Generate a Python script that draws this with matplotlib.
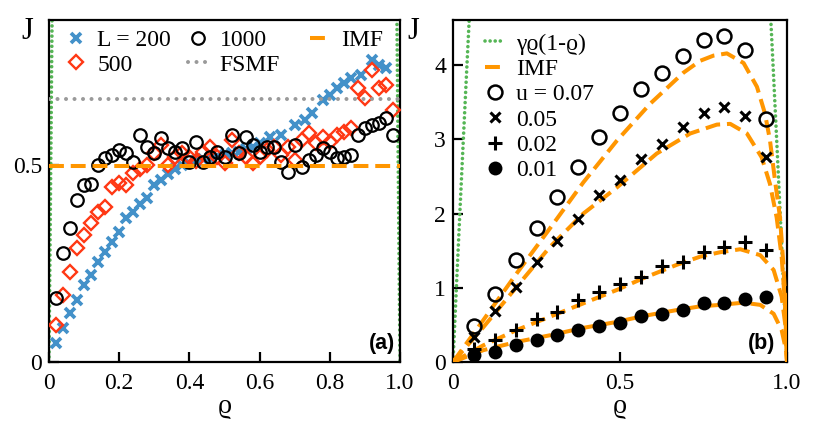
import matplotlib
matplotlib.use("Agg")
import matplotlib.pyplot as plt
from matplotlib.lines import Line2D

plt.rcParams['font.family'] = ['Liberation Serif', 'DejaVu Serif']
plt.rcParams['mathtext.fontset'] = 'stix'

# ---------------- data: panel (a) ----------------
rho_200 = [0.02, 0.04, 0.06, 0.08, 0.10, 0.12, 0.14, 0.16, 0.18, 0.20,
           0.22, 0.24, 0.26, 0.28, 0.30, 0.32, 0.34, 0.36, 0.38, 0.40,
           0.42, 0.44, 0.46, 0.48, 0.50, 0.52, 0.54, 0.56, 0.58, 0.60,
           0.63, 0.66, 0.70, 0.73, 0.75, 0.78, 0.80, 0.82, 0.84, 0.86,
           0.89, 0.92, 0.94, 0.96]
J_200 = [0.047, 0.086, 0.124, 0.157, 0.195, 0.220, 0.255, 0.280, 0.305, 0.330,
         0.365, 0.380, 0.400, 0.415, 0.449, 0.462, 0.478, 0.490, 0.500, 0.505,
         0.510, 0.515, 0.518, 0.522, 0.526, 0.530, 0.534, 0.540, 0.546, 0.555,
         0.572, 0.576, 0.601, 0.614, 0.631, 0.665, 0.678, 0.695, 0.707, 0.720,
         0.728, 0.766, 0.754, 0.747]

rho_500 = [0.02, 0.04, 0.06, 0.08, 0.10, 0.12, 0.14, 0.16, 0.18, 0.20,
           0.22, 0.24, 0.26, 0.28, 0.30, 0.32, 0.34, 0.36, 0.38, 0.40,
           0.42, 0.44, 0.46, 0.48, 0.50, 0.52, 0.54, 0.56, 0.58, 0.60,
           0.62, 0.64, 0.66, 0.68, 0.70, 0.72, 0.74, 0.76, 0.78, 0.80,
           0.82, 0.84, 0.86, 0.88, 0.90, 0.92, 0.94, 0.96, 0.98]
J_500 = [0.094, 0.170, 0.229, 0.289, 0.322, 0.352, 0.381, 0.394, 0.445, 0.455,
         0.449, 0.479, 0.491, 0.500, 0.530, 0.551, 0.500, 0.520, 0.530, 0.521,
         0.510, 0.534, 0.546, 0.520, 0.504, 0.563, 0.530, 0.520, 0.504, 0.520,
         0.538, 0.546, 0.525, 0.546, 0.513, 0.563, 0.580, 0.555, 0.572, 0.559,
         0.576, 0.584, 0.593, 0.695, 0.669, 0.741, 0.695, 0.703, 0.640]

rho_1000 = rho_500
J_1000 = [0.162, 0.276, 0.339, 0.411, 0.449, 0.453, 0.500, 0.517, 0.525, 0.538,
          0.530, 0.508, 0.576, 0.546, 0.530, 0.568, 0.542, 0.534, 0.542, 0.508,
          0.559, 0.508, 0.520, 0.534, 0.521, 0.576, 0.530, 0.572, 0.550, 0.534,
          0.546, 0.546, 0.508, 0.483, 0.550, 0.496, 0.513, 0.525, 0.542, 0.534,
          0.517, 0.520, 0.525, 0.576, 0.593, 0.601, 0.606, 0.619, 0.576]

rho_line_a = [0.0, 1.0]
J_fsmf = [0.667, 0.667]
J_imf_a = [0.497, 0.497]

# green curve  gamma*rho*(1-rho)
rho_green = [0.0, 0.01, 0.02, 0.03, 0.04, 0.05, 0.06, 0.94, 0.95, 0.96, 0.97, 0.98, 0.99, 1.0]
J_green = [0.0, 0.99, 1.96, 2.91, 3.84, 4.75, 5.64, 5.64, 4.75, 3.84, 2.91, 1.96, 0.99, 0.0]

# ---------------- data: panel (b) ----------------
rho_b = [0.0625, 0.125, 0.1875, 0.25, 0.3125, 0.375, 0.4375, 0.5,
         0.5625, 0.625, 0.6875, 0.75, 0.8125, 0.875, 0.9375]
J_u07 = [0.48, 0.92, 1.38, 1.81, 2.22, 2.63, 3.03, 3.35, 3.68, 3.89, 4.13, 4.34, 4.39, 4.20, 3.28]
J_u05 = [0.34, 0.69, 1.01, 1.35, 1.63, 1.93, 2.25, 2.45, 2.74, 2.94, 3.17, 3.35, 3.44, 3.31, 2.77]
J_u02 = [0.18, 0.29, 0.43, 0.58, 0.67, 0.84, 0.95, 1.05, 1.15, 1.29, 1.35, 1.48, 1.55, 1.62, 1.51]
J_u01 = [0.10, 0.14, 0.23, 0.30, 0.36, 0.43, 0.49, 0.53, 0.62, 0.65, 0.70, 0.79, 0.79, 0.85, 0.88]

imf07_rho = [0, 0.09, 0.19, 0.29, 0.39, 0.49, 0.59, 0.69, 0.74, 0.78, 0.82, 0.87, 0.91, 0.934, 0.949, 0.964, 0.979, 0.989, 0.997, 1.0]
imf07_J = [0, 0.56, 1.19, 1.80, 2.42, 2.98, 3.48, 3.90, 4.06, 4.13, 4.16, 4.03, 3.71, 3.35, 2.99, 2.45, 1.95, 1.33, 0.65, 0.0]
imf05_rho = [0, 0.091, 0.19, 0.29, 0.39, 0.49, 0.61, 0.71, 0.79, 0.83, 0.88, 0.924, 0.949, 0.969, 0.984, 0.994, 1.0]
imf05_J = [0, 0.47, 1.01, 1.55, 2.0, 2.35, 2.81, 3.08, 3.20, 3.21, 3.08, 2.76, 2.40, 1.95, 1.42, 0.79, 0]
imf02_rho = [0, 0.091, 0.19, 0.29, 0.39, 0.49, 0.57, 0.67, 0.74, 0.80, 0.86, 0.92, 0.96, 0.984, 0.997, 1.0]
imf02_J = [0, 0.225, 0.43, 0.61, 0.79, 0.97, 1.13, 1.31, 1.42, 1.48, 1.52, 1.44, 1.24, 0.88, 0.43, 0]
imf01_rho = [0, 0.091, 0.19, 0.29, 0.39, 0.49, 0.57, 0.67, 0.74, 0.80, 0.87, 0.92, 0.96, 0.984, 0.997, 1.0]
imf01_J = [0, 0.16, 0.27, 0.36, 0.46, 0.54, 0.62, 0.70, 0.75, 0.77, 0.80, 0.77, 0.65, 0.43, 0.16, 0]

# ---------------- styles ----------------
BLUE = '#4391c9'
RED = '#ff3814'
ORANGE = '#ff9600'
GREEN = '#55b555'
GREY = '#9a9a9a'
FS = 17

imf_style = dict(color=ORANGE, lw=2.9, linestyle=(0, (3.7, 1.7)))
green_style = dict(color=GREEN, lw=2.6, linestyle=(0, (0.01, 1.4)), dash_capstyle='round')
fsmf_style = dict(color=GREY, lw=2.9, linestyle=(0, (0.01, 2.1)), dash_capstyle='round')

m200 = dict(linestyle='none', marker='x', ms=7.5, mew=2.7, color=BLUE)
m500 = dict(linestyle='none', marker='D', ms=7.5, mew=1.7, mfc='none', mec=RED)
m1000 = dict(linestyle='none', marker='o', ms=9, mew=1.6, mfc='none', mec='black')
m07 = dict(linestyle='none', marker='o', ms=10, mew=1.8, mfc='none', mec='black')
m05 = dict(linestyle='none', marker='x', ms=7.5, mew=2.2, color='black')
m02 = dict(linestyle='none', marker='+', ms=10, mew=2.2, color='black')
m01 = dict(linestyle='none', marker='o', ms=10, mew=0, color='black')

fig = plt.figure(figsize=(8.3, 4.32), dpi=100)
axa = fig.add_axes([49/830, 70/432, 351/830, 342/432])
axb = fig.add_axes([453/830, 70/432, 334/830, 342/432])

for ax in (axa, axb):
    for s in ax.spines.values():
        s.set_linewidth(1.6)
    ax.tick_params(direction='in', length=7, width=1.6, labelsize=FS, pad=5,
                   top=False, right=False)
    ax.tick_params(axis='x', pad=8)

# ---- panel (a)
axa.plot(rho_green, J_green, **green_style, zorder=2)
axa.plot(rho_200, J_200, **m200, zorder=3)
axa.plot(rho_500, J_500, **m500, zorder=3)
axa.plot(rho_1000, J_1000, **m1000, zorder=3)
axa.plot(rho_line_a, J_fsmf, **fsmf_style, zorder=4)
axa.plot(rho_line_a, J_imf_a, **imf_style, zorder=4)
axa.set_xlim(0, 1)
axa.set_ylim(0, 0.868)
axa.set_xticks([0, 0.2, 0.4, 0.6, 0.8, 1.0])
axa.set_xticklabels(['0', '0.2', '0.4', '0.6', '0.8', '1.0'])
axa.set_yticks([0, 0.5])
axa.set_yticklabels(['0', '0.5'])
axa.set_xlabel('ϱ', fontsize=20, labelpad=0)
axa.text(-0.062, 0.965, 'J', transform=axa.transAxes, fontsize=22, ha='center', va='center')
axa.text(0.986, 0.022, '(a)', transform=axa.transAxes, fontsize=15.5, fontweight='bold',
         family='Liberation Sans', ha='right', va='bottom')

leg1 = axa.legend([Line2D([], [], **m200), Line2D([], [], **m500),
                   Line2D([], [], **m1000), Line2D([], [], **fsmf_style)],
                  ['L = 200', '500', '1000', 'FSMF'], ncol=2,
                  loc='upper left', bbox_to_anchor=(0.0, 1.02), frameon=False, fontsize=FS,
                  handlelength=0.85, handletextpad=0.5, columnspacing=0.7, labelspacing=0.12,
                  borderaxespad=0.3)
axa.add_artist(leg1)
axa.legend([Line2D([], [], **imf_style)], ['IMF'], loc='upper right',
           bbox_to_anchor=(1.0, 1.02), frameon=False,
           fontsize=FS, handlelength=0.85, handletextpad=0.5, borderaxespad=0.3)

# ---- panel (b)
axb.plot(rho_green, J_green, **green_style, zorder=2)
for r, j in ((imf07_rho, imf07_J), (imf05_rho, imf05_J), (imf02_rho, imf02_J), (imf01_rho, imf01_J)):
    axb.plot(r, j, **imf_style, zorder=3)
axb.plot(rho_b, J_u07, **m07, zorder=4)
axb.plot(rho_b, J_u05, **m05, zorder=4)
axb.plot(rho_b, J_u02, **m02, zorder=4)
axb.plot(rho_b, J_u01, **m01, zorder=4)
axb.set_xlim(0, 1)
axb.set_ylim(0, 4.61)
axb.set_xticks([0, 0.5, 1.0])
axb.set_xticklabels(['0', '0.5', '1.0'])
axb.set_yticks([0, 1, 2, 3, 4])
axb.set_xlabel('ϱ', fontsize=20, labelpad=0)
axb.text(-0.12, 0.965, 'J', transform=axb.transAxes, fontsize=22, ha='center', va='center')
axb.text(0.965, 0.022, '(b)', transform=axb.transAxes, fontsize=15.5, fontweight='bold',
         family='Liberation Sans', ha='right', va='bottom')

axb.legend([Line2D([], [], **green_style), Line2D([], [], **imf_style),
            Line2D([], [], **m07), Line2D([], [], **m05),
            Line2D([], [], **m02), Line2D([], [], **m01)],
           ['γϱ(1-ϱ)', 'IMF', 'u = 0.07', '0.05', '0.02', '0.01'],
           loc='upper left', bbox_to_anchor=(0.045, 1.01), frameon=False, fontsize=FS,
           handlelength=0.85, handletextpad=0.5, labelspacing=0.16, borderaxespad=0.3)

fig.savefig('out.png', dpi=100)
